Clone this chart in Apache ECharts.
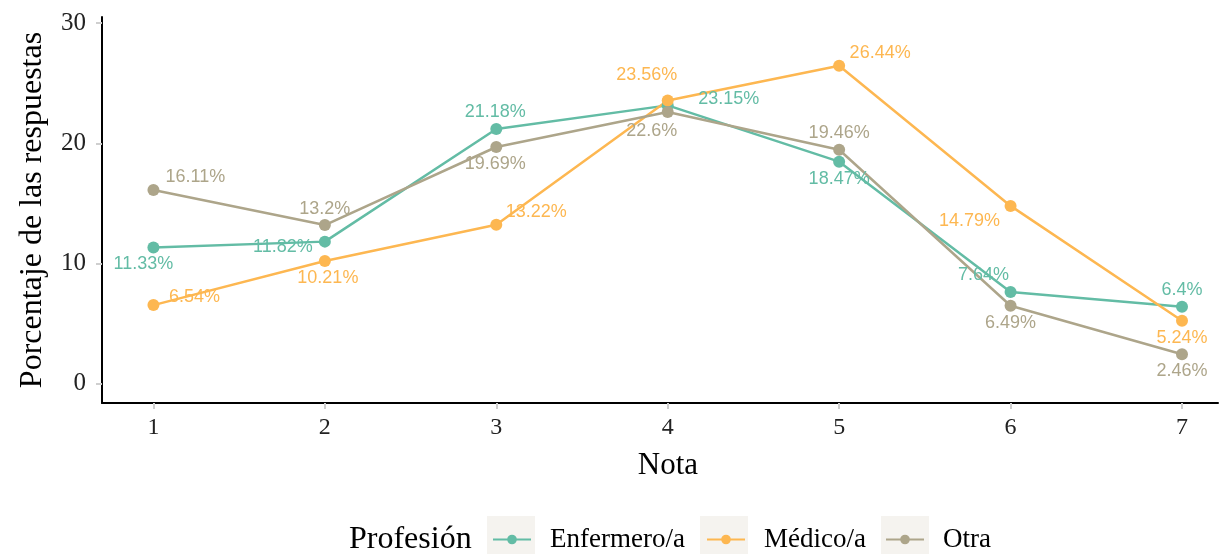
<!DOCTYPE html>
<html>
<head>
<meta charset="utf-8">
<script src="https://cdn.jsdelivr.net/npm/echarts@6/dist/echarts.min.js"></script>
<style>
  html, body { margin: 0; padding: 0; background: #fff; }
  #chart { width: 1220px; height: 554px; }
</style>
</head>
<body>
<div id="chart"></div>
<script>
// Data
const notas = [1, 2, 3, 4, 5, 6, 7];
const enfermero = [11.33, 11.82, 21.18, 23.15, 18.47, 7.64, 6.4];
const medico = [6.54, 10.21, 13.22, 23.56, 26.44, 14.79, 5.24];
const otra = [16.11, 13.2, 19.69, 22.6, 19.46, 6.49, 2.46];
const yTicks = [0, 10, 20, 30];
const profesiones = ['Enfermero/a', 'Médico/a', 'Otra'];

// label nudges (pixels), like ggrepel placed them
const offEnf = [[-10, 17], [-42, 5], [-1, -17], [61, -6], [0, 17], [-27, -17], [0, -17]];
const offMed = [[41, -8], [3, 17], [40, -13], [-21, -25], [41, -13], [-41, 15], [0, 17]];
const offOtra = [[42, -13], [0, -16], [-1, 17], [-16, 19], [0, -17], [0, 17], [0, 17]];
const offsets = [offEnf, offMed, offOtra];

const colors = {
    enfermero: '#63bca5',
    medico: '#fdb751',
    otra: '#ada58a'
};

const serif = "'Liberation Serif', 'DejaVu Serif', serif";
const sans = "'Liberation Sans', Arial, sans-serif";

function buildSeries(name, values, color) {
    return {
        name: name,
        type: 'line',
        data: values.map((v, i) => [notas[i], v]),
        symbol: 'circle',
        symbolSize: 12,
        lineStyle: { color: color, width: 2.5 },
        itemStyle: { color: color },
        label: {
            show: true,
            position: 'inside',
            align: 'center',
            verticalAlign: 'middle',
            color: color,
            fontFamily: sans,
            fontSize: 18,
            formatter: p => p.value[1] + '%'
        },
        labelLayout: function (params) {
            const o = offsets[params.seriesIndex][params.dataIndex];
            return { dx: o[0], dy: o[1], hideOverlap: false };
        },
        emphasis: { disabled: true },
        animation: false
    };
}

// one legend per entry so each key sits on its grey box
function buildLegend(name, left) {
    return {
        left: left,
        top: 521,
        itemWidth: 38,
        itemHeight: 12,
        textStyle: { fontFamily: serif, fontSize: 27, color: '#000', padding: [0, 0, 0, 14] },
        data: [name]
    };
}

const chart = echarts.init(document.getElementById('chart'), null, { renderer: 'canvas' });

const option = {
    backgroundColor: '#ffffff',
    grid: { left: 102, right: 2, top: 17, bottom: 151 },
    xAxis: {
        type: 'value',
        min: 0.7,
        max: 7.21,
        name: 'Nota',
        nameLocation: 'middle',
        nameGap: 47,
        nameTextStyle: { fontFamily: serif, fontSize: 31, color: '#000', padding: [0, 0, 0, 16] },
        axisLine: { show: true, onZero: false, lineStyle: { color: '#000', width: 2 } },
        axisTick: { show: true, customValues: notas, length: 6, lineStyle: { color: '#cfcfcf', width: 2 } },
        axisLabel: { customValues: notas, fontFamily: serif, fontSize: 24, color: '#222', margin: 13 },
        splitLine: { show: false }
    },
    yAxis: {
        type: 'value',
        min: -1.6,
        max: 30.5,
        name: 'Porcentaje de las respuestas',
        nameLocation: 'middle',
        nameGap: 53,
        nameTextStyle: { fontFamily: serif, fontSize: 32, color: '#000' },
        axisLine: { show: true, onZero: false, lineStyle: { color: '#000', width: 2 } },
        axisTick: { show: true, customValues: yTicks, length: 6, lineStyle: { color: '#cfcfcf', width: 2 } },
        axisLabel: { customValues: yTicks, fontFamily: serif, fontSize: 25, color: '#222', margin: 16 },
        splitLine: { show: false }
    },
    legend: [
        buildLegend(profesiones[0], 487),
        buildLegend(profesiones[1], 701),
        buildLegend(profesiones[2], 880)
    ],
    graphic: [
        { type: 'rect', shape: { x: 487, y: 516, width: 48, height: 38 }, style: { fill: '#f5f3ef' }, z: -1 },
        { type: 'rect', shape: { x: 700, y: 516, width: 48, height: 38 }, style: { fill: '#f5f3ef' }, z: -1 },
        { type: 'rect', shape: { x: 881, y: 516, width: 48, height: 38 }, style: { fill: '#f5f3ef' }, z: -1 },
        {
            type: 'text',
            left: 349,
            top: 524,
            style: { text: 'Profesión', font: "32px 'Liberation Serif', serif", fill: '#000' }
        }
    ],
    series: [
        buildSeries(profesiones[0], enfermero, colors.enfermero),
        buildSeries(profesiones[1], medico, colors.medico),
        buildSeries(profesiones[2], otra, colors.otra)
    ]
};

chart.setOption(option);
</script>
</body>
</html>
